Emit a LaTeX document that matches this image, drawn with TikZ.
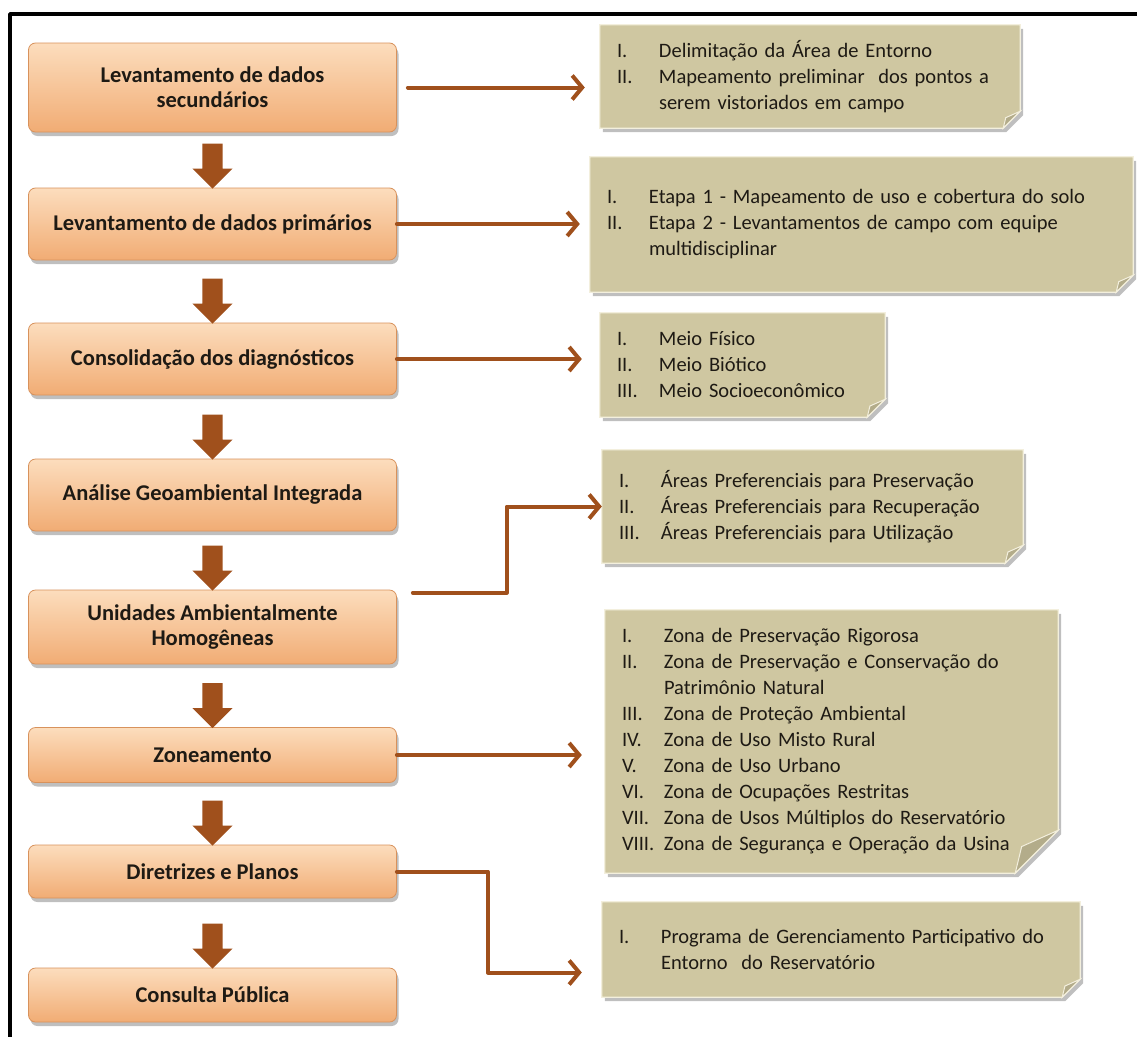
\documentclass[tikz,border=0pt]{standalone}
\usepackage{fontspec}
\setmainfont{Carlito}
\usetikzlibrary{arrows.meta,calc,positioning,shapes.arrows,shadows,backgrounds}
\definecolor{zonPeachTop}{HTML}{FCDDBD}
\definecolor{zonPeachBot}{HTML}{F1AC74}
\definecolor{zonPeachEdge}{HTML}{D8925C}
\definecolor{zonBrown}{HTML}{A0501C}
\definecolor{zonKhaki}{HTML}{CFC7A1}
\definecolor{zonKhakiEdge}{HTML}{F3EFDD}
\definecolor{zonFold}{HTML}{B3AC8A}
\definecolor{zonInk}{HTML}{1E1A14}
\newcommand{\zitm}[2]{\makebox[42pt][l]{#1}\mbox{#2}}
\newcommand{\zcont}[1]{\hspace*{42pt}\mbox{#1}}
% khaki note with folded corner, behind the named node
\newcommand{\notebg}[2]{%
 \fill[zonKhaki,draw=zonKhakiEdge,line width=1.2pt,drop shadow={shadow xshift=3pt,shadow yshift=-4pt,opacity=0.5}] (#1.north west) -- (#1.north east) -- ($(#1.south east)+(0,-#2)$) -- ($(#1.south east)+(-#2,0)$) -- (#1.south west) -- cycle;
 \fill[zonFold,draw=zonKhakiEdge,line width=1pt] ($(#1.south east)+(0,-#2)$) -- ($(#1.south east)+(-0.85*#2,-0.62*#2)$) -- ($(#1.south east)+(-#2,0)$) -- cycle;}

\begin{document}
\begin{tikzpicture}[x=1pt,y=-1pt,>=Latex,line cap=round,line join=round]
\useasboundingbox (0,0) rectangle (1137,1036);
\begin{scope}[on background layer]\path[fill=white] (0,0) rectangle (1137,1036);\end{scope}
\draw[line width=3.5pt] (10,14) rectangle (1150,1050);
\tikzset{stage/.style={draw=zonPeachEdge,line width=0.8pt,rounded corners=7pt,top color=zonPeachTop,bottom color=zonPeachBot,minimum width=368pt,text=zonInk,font=\bfseries\fontsize{22.5}{25}\selectfont,align=center,drop shadow={shadow xshift=2pt,shadow yshift=-4pt,opacity=0.5}},
 note/.style={inner xsep=17pt,inner ysep=0pt,align=left,text=zonInk,font=\fontsize{20.5}{26}\selectfont},
 link/.style={draw=zonBrown,line width=4pt,-{Straight Barb[length=10pt,width=24pt]}},
 downarrow/.style={single arrow,fill=zonBrown,rotate=-90,inner xsep=0pt,inner ysep=10pt,single arrow head extend=10pt,minimum height=45pt}}
% stages
\node[stage,minimum height=89pt] (b1) at (212.5,87.5) {Levantamento de dados\\secundários};
\node[stage,minimum height=72pt] (b2) at (212.5,224) {Levantamento de dados primários};
\node[stage,minimum height=72pt] (b3) at (212.5,359) {Consolidação dos diagnósticos};
\node[stage,minimum height=72pt] (b4) at (212.5,495) {Análise Geoambiental Integrada};
\node[stage,minimum height=74pt] (b5) at (212.5,627) {Unidades Ambientalmente\\Homogêneas};
\node[stage,minimum height=55pt] (b6) at (212.5,755) {Zoneamento};
\node[stage,minimum height=53pt] (b7) at (212.5,871.5) {Diretrizes e Planos};
\node[stage,minimum height=54pt] (b8) at (212.5,995) {Consulta Pública};
\node[downarrow] (d1) at ($(b2.north)+(0,-26.5)$) {}; \node[downarrow] (d2) at ($(b3.north)+(0,-26.5)$) {};
\node[downarrow] (d3) at ($(b4.north)+(0,-26.5)$) {}; \node[downarrow] (d4) at ($(b5.north)+(0,-26.5)$) {};
\node[downarrow] (d5) at ($(b6.north)+(0,-26.5)$) {}; \node[downarrow] (d6) at ($(b7.north)+(0,-26.5)$) {};
\node[downarrow] (d7) at ($(b8.north)+(0,-26.5)$) {};
% notes
\node[note,text width=386pt,minimum height=103pt] (n1) at (810,76.5) {\zitm{I.}{Delimitação da Área de Entorno}\\\zitm{II.}{Mapeamento preliminar\ \ dos pontos a}\\\zcont{serem vistoriados em campo}};
\node[note,text width=509pt,minimum height=135pt] (n2) at (861.5,224.5) {\zitm{I.}{Etapa 1 - Mapeamento de uso e cobertura do solo}\\\zitm{II.}{Etapa 2 - Levantamentos de campo com equipe}\\\zcont{multidisciplinar}};
\node[note,text width=251pt,minimum height=104pt] (n3) at (742.5,365) {\zitm{I.}{Meio Físico}\\\zitm{II.}{Meio Biótico}\\\zitm{III.}{Meio Socioeconômico}};
\node[note,text width=387pt,minimum height=113pt] (n4) at (812.5,506.5) {\zitm{I.}{Áreas Preferenciais para Preservação}\\\zitm{II.}{Áreas Preferenciais para Recuperação}\\\zitm{III.}{Áreas Preferenciais para Utilização}};
\node[note,text width=419pt,minimum height=263pt] (n5) at (831.5,741.5) {\zitm{I.}{Zona de Preservação Rigorosa}\\\zitm{II.}{Zona de Preservação e Conservação do}\\\zcont{Patrimônio Natural}\\\zitm{III.}{Zona de Proteção Ambiental}\\\zitm{IV.}{Zona de Uso Misto Rural}\\\zitm{V.}{Zona de Uso Urbano}\\\zitm{VI.}{Zona de Ocupações Restritas}\\\zitm{VII.}{Zona de Usos Múltiplos do Reservatório}\\\zitm{VIII.}{Zona de Segurança e Operação da Usina}};
\node[note,text width=444pt,minimum height=95pt] (n6) at (841,949.5) {\zitm{I.}{Programa de Gerenciamento Participativo do}\\\zcont{Entorno\ \ do Reservatório}};
\begin{scope}[on background layer]
\notebg{n1}{17} \notebg{n2}{17} \notebg{n3}{18} \notebg{n4}{18} \notebg{n5}{43} \notebg{n6}{18}
\end{scope}
% links to the notes
\draw[link] ($(b1.east)+(11,0)$) -- ($(b1.east -| n1.west)+(-15,0)$);
\draw[link] (b2.east) -- ($(b2.east -| n2.west)+(-10,0)$);
\draw[link] (b3.east) -- ($(b3.east -| n3.west)+(-18,0)$);
\draw[link] ($(b5.north east)+(16,3)$) -| ($(n4.west)+(-95,0)$) -- (n4.west);
\draw[link] (b6.east) -- ($(b6.east -| n5.west)+(-23,0)$);
\draw[link] (b7.east) -| ($(n6.west)+(-114,23)$) -- ($(n6.west)+(-20,23)$);
\end{tikzpicture}
\end{document}
